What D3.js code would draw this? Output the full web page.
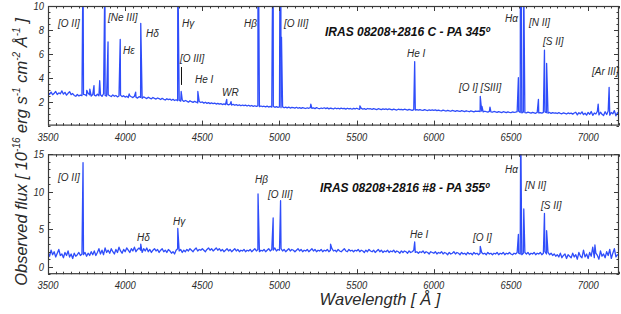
<!DOCTYPE html>
<html>
<head>
<meta charset="utf-8">
<script src="https://cdn.jsdelivr.net/npm/d3@7"></script>
<style>
  html, body { margin: 0; padding: 0; background: #fff; }
  svg { display: block; }
</style>
</head>
<body>
<svg id="chart" width="621" height="314"></svg>
<script>
// ---------------- DATA ----------------
const WL_START = 3500;
const WL_STEP = 10;
const xTickValues = [3500, 4000, 4500, 5000, 5500, 6000, 6500, 7000];
const topYTicks = [2, 4, 6, 8, 10];
const bottomYTicks = [0, 5, 10, 15];

// Panel 1: IRAS 08208+2816 C - PA 345º  (continuum, 3500..7200 step 10 Å)
const topContinuum = [
  2.75,2.62,2.80,2.58,2.71,2.85,2.60,2.74,2.66,2.90,
  2.63,2.78,2.55,2.70,2.84,2.59,2.68,2.52,2.45,2.60,
  2.48,2.55,2.50,2.62,2.58,2.49,2.70,2.57,2.46,2.60,
  2.55,2.48,2.62,2.50,2.58,2.44,2.66,2.52,2.47,2.58,
  2.50,2.43,2.57,2.45,2.52,2.40,2.48,2.55,2.42,2.50,
  2.38,2.46,2.35,2.50,2.41,2.34,2.45,2.38,2.30,2.42,
  2.36,2.28,2.40,2.33,2.26,2.37,2.30,2.24,2.35,2.28,
  2.22,2.31,2.25,2.18,2.28,2.20,2.14,2.25,2.17,2.22,
  2.12,2.20,2.10,2.16,2.08,2.13,2.05,2.14,2.02,2.10,
  2.04,1.96,2.08,2.00,1.94,2.03,1.97,1.90,2.01,1.93,
  1.98,1.88,1.95,1.86,1.92,1.84,1.90,1.83,1.88,1.80,
  1.86,1.79,1.84,1.76,1.82,1.75,1.80,1.74,1.79,1.72,
  1.78,1.70,1.76,1.68,1.74,1.66,1.72,1.67,1.71,1.64,
  1.70,1.63,1.68,1.61,1.66,1.60,1.65,1.58,1.64,1.59,
  1.62,1.56,1.63,1.55,1.60,1.54,1.61,1.53,1.58,1.52,
  1.56,1.50,1.57,1.49,1.55,1.48,1.54,1.47,1.52,1.50,
  1.46,1.53,1.45,1.51,1.44,1.50,1.47,1.43,1.49,1.45,
  1.51,1.44,1.48,1.42,1.50,1.45,1.41,1.47,1.43,1.49,
  1.42,1.48,1.40,1.46,1.43,1.39,1.47,1.41,1.45,1.40,
  1.46,1.41,1.44,1.38,1.45,1.40,1.43,1.37,1.44,1.39,
  1.45,1.40,1.36,1.44,1.38,1.42,1.35,1.43,1.39,1.41,
  1.36,1.42,1.38,1.34,1.41,1.37,1.33,1.40,1.36,1.39,
  1.34,1.39,1.35,1.31,1.38,1.34,1.30,1.37,1.33,1.36,
  1.31,1.37,1.33,1.29,1.35,1.32,1.28,1.34,1.30,1.33,
  1.29,1.34,1.30,1.27,1.33,1.29,1.26,1.32,1.28,1.31,
  1.27,1.31,1.25,1.30,1.26,1.23,1.29,1.25,1.22,1.28,
  1.24,1.20,1.27,1.23,1.19,1.26,1.22,1.18,1.25,1.21,
  1.17,1.24,1.20,1.16,1.23,1.19,1.15,1.22,1.18,1.21,
  1.17,1.22,1.15,1.20,1.16,1.13,1.19,1.15,1.12,1.18,
  1.14,1.10,1.17,1.13,1.09,1.16,1.12,1.08,1.15,1.11,
  1.08,1.14,1.10,1.12,1.16,1.20,1.10,1.07,1.13,1.09,
  1.06,1.12,1.08,1.04,1.11,1.07,1.03,1.10,1.06,1.09,
  1.05,1.11,1.15,1.08,1.04,1.10,1.02,1.08,1.04,1.07,
  1.01,1.08,1.03,0.99,1.07,1.02,0.97,1.06,1.00,1.04,
  0.96,1.05,1.12,0.90,1.08,0.98,1.15,0.92,1.03,0.88,
  1.10,0.94,1.18,0.86,1.05,0.97,1.20,0.89,1.12,0.95,
  0.84,1.16,0.93,1.22,0.87,1.10,0.98,1.25,0.82,1.08,
  0.95
];
// emission line peaks [wavelength Å, flux]
const topLines = [
  [3727, 14], [3751, 2.95], [3771, 3.05], [3798, 3.35], [3835, 3.75],
  [3869, 13], [3889, 7.0], [3968, 7.2], [4026, 2.65], [4068, 2.8],
  [4101, 8.55], [4341, 14], [4363, 2.85], [4471, 2.85], [4658, 2.2],
  [4686, 2.0], [4861, 20], [4953, 7.9], [4959, 16], [5007, 30],
  [5013, 7.4], [5203, 1.8], [5521, 1.65], [5876, 5.35], [6301, 2.45],
  [6312, 1.6], [6364, 1.55], [6548, 4.0], [6563, 35], [6568, 8.6],
  [6583, 12], [6678, 2.2], [6717, 6.3], [6731, 5.2], [7065, 1.8],
  [7136, 3.2]
];

// Panel 2: IRAS 08208+2816 #8 - PA 355º  (continuum, 3500..7200 step 10 Å)
const bottomContinuum = [
  1.9,1.4,2.2,1.6,2.0,1.3,1.8,2.3,1.5,1.7,
  1.2,1.9,1.5,2.1,1.3,1.7,1.1,1.8,1.4,1.6,
  1.9,1.5,1.7,1.6,1.9,1.4,1.8,1.5,2.0,1.6,
  2.1,1.5,1.9,2.4,1.7,2.2,1.6,2.5,1.9,2.2,
  1.8,2.4,2.0,1.7,2.3,1.9,2.6,2.1,1.8,2.3,
  2.0,2.5,2.2,1.9,2.4,2.1,2.6,2.0,2.3,2.5,
  2.2,1.9,2.4,2.1,2.5,2.0,2.3,1.9,2.2,2.4,
  2.1,2.3,1.9,2.2,2.4,2.0,2.2,1.9,2.3,2.1,
  1.8,2.0,1.7,2.2,2.4,2.1,2.3,1.9,2.2,2.0,
  2.3,2.1,2.4,2.2,2.0,2.3,2.5,2.1,2.3,2.2,
  2.4,2.2,2.0,2.3,2.5,2.2,2.4,2.1,2.3,2.5,
  2.2,2.4,2.1,2.3,2.0,2.2,2.4,2.1,2.3,2.0,
  2.2,2.4,2.1,2.3,2.0,2.2,2.1,2.3,2.0,2.2,
  2.1,2.3,2.0,2.2,2.4,2.1,2.3,2.0,2.2,2.1,
  2.3,2.0,2.2,2.4,2.1,2.3,2.2,2.5,2.1,2.3,
  2.2,2.4,2.1,2.3,2.0,2.2,2.4,2.1,2.3,2.2,
  2.0,2.2,2.4,2.1,2.3,2.0,2.2,2.1,2.3,2.0,
  2.2,2.4,2.1,2.3,2.0,2.2,2.1,2.3,2.0,2.2,
  2.1,2.3,2.0,2.2,2.4,2.1,2.2,2.0,2.3,2.1,
  2.0,2.2,2.4,2.1,2.0,2.3,2.1,2.2,2.0,2.2,
  2.1,2.3,2.0,2.2,2.1,1.9,2.2,2.0,2.3,2.1,
  2.0,2.2,1.9,2.1,2.3,2.0,2.2,1.9,2.1,2.0,
  2.2,1.9,2.1,2.0,2.2,1.9,2.1,2.0,1.8,2.1,
  1.9,2.1,2.0,1.8,2.1,1.9,2.0,2.2,1.9,2.0,
  1.8,2.0,1.9,2.1,1.8,2.0,1.9,1.7,2.0,1.9,
  1.8,2.0,1.7,1.9,1.8,2.0,1.7,1.9,1.8,1.6,
  1.9,1.7,1.8,2.0,1.7,1.9,1.8,1.6,1.9,1.7,
  1.8,1.6,1.9,1.7,1.8,1.6,1.9,1.7,1.8,1.6,
  1.8,1.9,1.7,1.8,1.6,1.9,1.7,1.8,1.6,1.8,
  1.7,1.9,1.6,1.8,1.7,1.9,1.6,1.8,1.7,1.9,
  1.7,1.6,1.8,1.7,1.9,1.8,1.7,1.6,1.8,1.9,
  1.7,1.9,1.6,1.8,1.7,1.9,1.6,1.8,1.7,1.9,
  1.6,1.8,2.0,1.7,1.9,1.6,1.8,1.5,1.7,1.4,
  1.6,1.3,1.8,1.2,1.5,1.7,1.1,1.6,1.4,1.2,
  1.8,1.3,1.6,1.0,1.9,1.4,1.2,2.2,1.3,1.7,
  1.1,1.9,1.4,2.6,1.2,1.8,1.5,1.0,2.1,1.4,
  1.7,1.2,2.0,1.5,2.3,1.1,1.8,2.4,1.3,1.6,
  1.5
];
const bottomLines = [
  [3727, 13.9], [4101, 3.0], [4341, 5.1], [4861, 9.7], [4959, 6.5],
  [5007, 8.8], [5331, 3.0], [5876, 3.3], [6301, 2.7], [6548, 4.3],
  [6563, 20], [6583, 7.7], [6717, 7.1], [6731, 4.8], [7044, 2.9]
];

// line identifications, anchored at [label, wavelength, flux]
const topLabels = [
  ["[O II]", 3565, 8.24], ["[Ne III]", 3889, 8.75], ["Hε", 3986, 5.99],
  ["Hδ", 4135, 7.41], ["Hγ", 4368, 8.24], ["[O III]", 4355, 5.32],
  ["He I", 4453, 3.56], ["WR", 4628, 2.47], ["Hβ", 4770, 8.24],
  ["[O III]", 5029, 8.24], ["He I", 5826, 5.74], ["[O I] [SIII]", 6163, 2.89],
  ["Hα", 6461, 8.66], ["[N II]", 6617, 8.33], ["[S II]", 6708, 6.74],
  ["[Ar III]", 7025, 4.23]
];
const topMarker = [4365, 4.9, 3.4];
const bottomLabels = [
  ["[O II]", 3565, 11.43], ["Hδ", 4077, 3.43], ["Hγ", 4310, 5.56],
  ["Hβ", 4841, 11.16], ["[O III]", 4926, 9.16], ["He I", 5846, 3.83],
  ["[O I]", 6254, 3.43], ["Hα", 6461, 12.5], ["[N II]", 6591, 10.37],
  ["[S II]", 6695, 7.7]
];
const topTitle = ["IRAS 08208+2816 C - PA 345º", 5295, 7.49];
const bottomTitle = ["IRAS 08208+2816 #8 - PA 355º", 5262, 9.97];

// ---------------- DRAWING ----------------
const svg = d3.select("#chart");
const FRAME = "#3a3a3a";
const LINE = "#2f4dfa";
const TXT = "#2a2a2a";

const x = d3.scaleLinear().domain([3500, 7200]).range([48, 619]);

function spectrum(cont, lines) {
  return cont.map((f, i) => [WL_START + i * WL_STEP, f])
    .concat(lines)
    .sort((a, b) => a[0] - b[0]);
}

function panel(id, y, yTicks, yMinorStep, cont, lines, labels, title, marker) {
  const [x0, x1] = x.range();
  const [yb, yt] = y.range();
  const g = svg.append("g");

  g.append("clipPath").attr("id", "clip" + id)
    .append("rect").attr("x", x0).attr("y", yt).attr("width", x1 - x0).attr("height", yb - yt);

  g.append("path")
    .datum(spectrum(cont, lines))
    .attr("clip-path", `url(#clip${id})`)
    .attr("fill", "none")
    .attr("stroke", LINE)
    .attr("stroke-width", 1.3)
    .attr("stroke-linejoin", "round")
    .attr("d", d3.line().x(d => x(d[0])).y(d => y(d[1])));

  // ticks (inside, all four sides)
  const xMinor = d3.range(3500, 7201, 50);
  const ticks = g.append("g").attr("stroke", FRAME).attr("stroke-width", 1);
  xMinor.forEach(v => {
    const major = v % 500 === 0;
    const len = major ? 5 : 2.5;
    const px = Math.round(x(v)) + 0.5;
    ticks.append("line").attr("x1", px).attr("x2", px).attr("y1", yb).attr("y2", yb - len);
    ticks.append("line").attr("x1", px).attr("x2", px).attr("y1", yt).attr("y2", yt + len);
  });
  const [d0, d1] = y.domain();
  const yMinor = d3.range(Math.ceil(d0 / yMinorStep) * yMinorStep, d1 + 1e-6, yMinorStep);
  yMinor.forEach(v => {
    const major = yTicks.includes(+v.toFixed(3));
    const len = major ? 5 : 2.5;
    const py = Math.round(y(v)) + 0.5;
    ticks.append("line").attr("x1", x0).attr("x2", x0 + len).attr("y1", py).attr("y2", py);
    ticks.append("line").attr("x1", x1).attr("x2", x1 - len).attr("y1", py).attr("y2", py);
  });

  g.append("rect").attr("x", x0 + 0.5).attr("y", yt + 0.5)
    .attr("width", x1 - x0 - 1).attr("height", yb - yt - 1)
    .attr("fill", "none").attr("stroke", FRAME).attr("stroke-width", 1.2);

  // tick labels
  xTickValues.forEach(v => {
    g.append("text")
      .attr("transform", `translate(${x(v)},${yb + 15}) scale(0.82,1)`)
      .attr("text-anchor", "middle")
      .attr("font-family", "Liberation Sans, Arial, sans-serif")
      .attr("font-style", "italic").attr("font-size", 11.5).attr("fill", TXT)
      .text(v);
  });
  yTicks.forEach(v => {
    g.append("text")
      .attr("transform", `translate(${x0 - 4},${y(v) + 4}) scale(0.82,1)`)
      .attr("text-anchor", "end")
      .attr("font-family", "Liberation Sans, Arial, sans-serif")
      .attr("font-style", "italic").attr("font-size", 11.5).attr("fill", TXT)
      .text(v);
  });

  // line identifications
  labels.forEach(([t, wl, f]) => {
    g.append("text").attr("x", x(wl)).attr("y", y(f))
      .attr("font-family", "Liberation Sans, Arial, sans-serif")
      .attr("font-style", "italic").attr("font-size", 10).attr("fill", TXT)
      .text(t);
  });
  if (marker) {
    g.append("line").attr("x1", x(marker[0])).attr("x2", x(marker[0]))
      .attr("y1", y(marker[1])).attr("y2", y(marker[2]))
      .attr("stroke", "#111").attr("stroke-width", 1);
  }
  g.append("text").attr("x", x(title[1])).attr("y", y(title[2]))
    .attr("font-family", "Liberation Sans, Arial, sans-serif")
    .attr("font-style", "italic").attr("font-weight", "bold")
    .attr("font-size", 12).attr("fill", "#111")
    .text(title[0]);
}

const yTop = d3.scaleLinear().domain([0, 10]).range([125.6, 6]);
const yBottom = d3.scaleLinear().domain([-1, 15]).range([274.2, 154.3]);

panel("t", yTop, topYTicks, 0.5, topContinuum, topLines, topLabels, topTitle, topMarker);
panel("b", yBottom, bottomYTicks, 1, bottomContinuum, bottomLines, bottomLabels, bottomTitle, null);

// axis titles
svg.append("text")
  .attr("x", 380).attr("y", 305)
  .attr("text-anchor", "middle")
  .attr("font-family", "Liberation Sans, Arial, sans-serif")
  .attr("font-style", "italic").attr("font-size", 16.5).attr("fill", TXT)
  .text("Wavelength [ Å ]");

const yt = svg.append("text")
  .attr("transform", "translate(27,152) rotate(-90)")
  .attr("text-anchor", "middle")
  .attr("font-family", "Liberation Sans, Arial, sans-serif")
  .attr("font-style", "italic").attr("font-size", 16.5).attr("fill", TXT);
const parts = [["Observed flux [ 10", 0], ["-16", 1], [" erg s", 0], ["-1", 1],
               [" cm", 0], ["-2", 1], [" Å", 0], ["-1", 1], [" ]", 0]];
parts.forEach(([t, sup], i) => {
  const prevSup = i > 0 ? parts[i - 1][1] : 0;
  const ts = yt.append("tspan").text(t);
  if (sup) ts.attr("font-size", 10).attr("dy", -7);
  else if (prevSup) ts.attr("dy", 7);
});
</script>
</body>
</html>
